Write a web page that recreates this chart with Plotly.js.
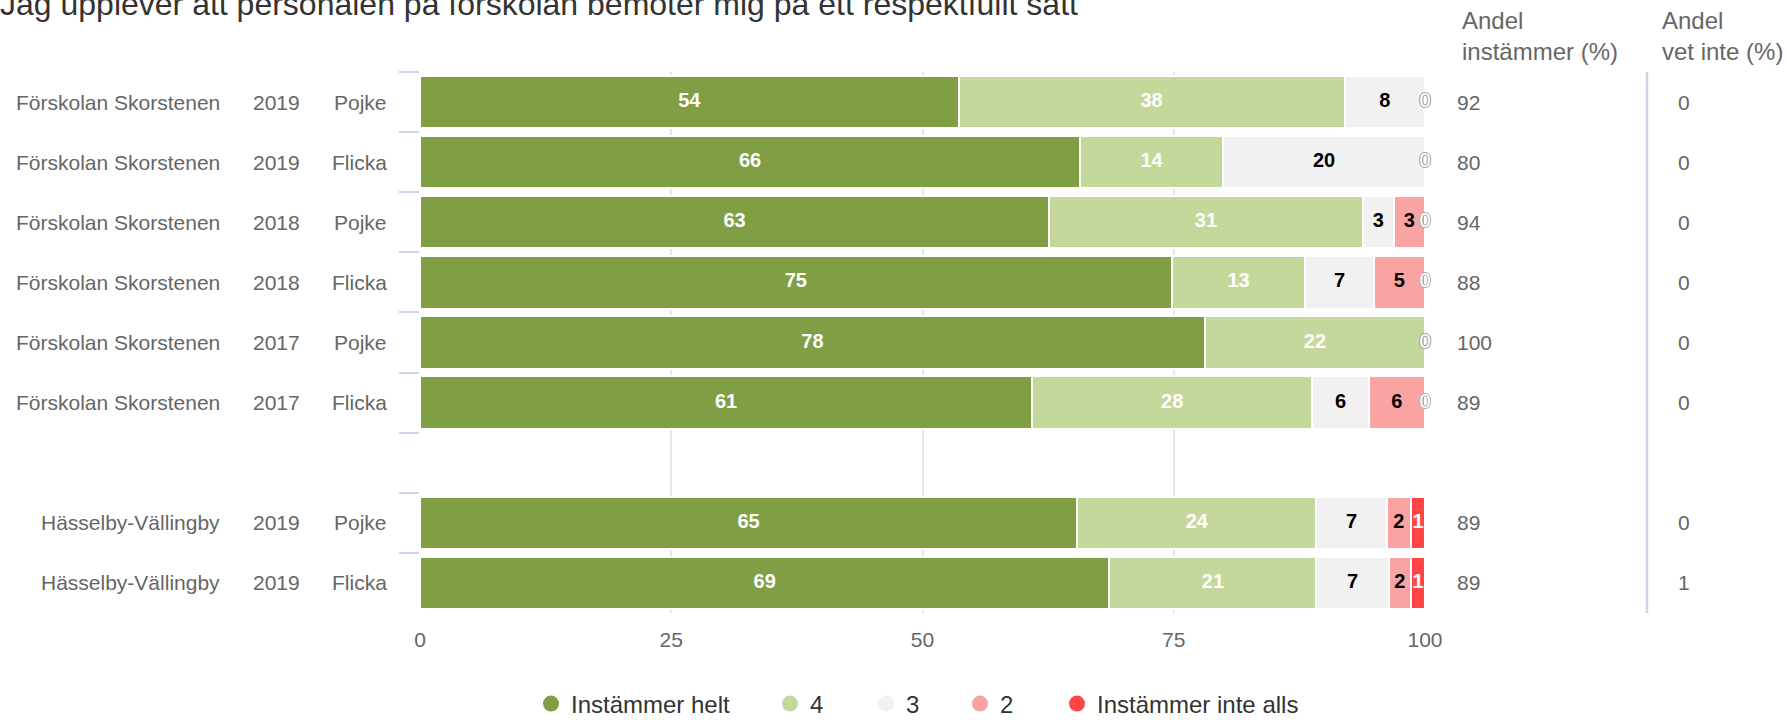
<!DOCTYPE html>
<html><head><meta charset="utf-8">
<script src="https://cdn.plot.ly/plotly-3.0.1.min.js"></script>
<style>html,body{margin:0;padding:0;background:#fff}</style>
</head><body>
<div id="chart" style="width:1787px;height:720px"></div>
<script>
// ---------- data ----------
const chartTitle = "Jag upplever att personalen på förskolan bemöter mig på ett respektfullt sätt";
const sites = ["Förskolan Skorstenen","Förskolan Skorstenen","Förskolan Skorstenen","Förskolan Skorstenen","Förskolan Skorstenen","Förskolan Skorstenen","Hässelby-Vällingby","Hässelby-Vällingby"];
const years = ["2019","2019","2018","2018","2017","2017","2019","2019"];
const genders = ["Pojke","Flicka","Pojke","Flicka","Pojke","Flicka","Pojke","Flicka"];
const seriesNames = ["Instämmer helt","4","3","2","Instämmer inte alls"];
const helt     = [53.6, 65.7, 62.6, 74.8, 78.1, 60.9, 65.4, 68.6];
const fyra     = [38.4, 14.2, 31.2, 13.3, 21.9, 27.9, 23.8, 20.6];
const tre      = [ 8.0, 20.1,  3.1,  6.8,  0.0,  5.6,  7.0,  7.2];
const tva      = [ 0.0,  0.0,  3.1,  5.1,  0.0,  5.6,  2.4,  2.2];
const inteAlls = [ 0.0,  0.0,  0.0,  0.0,  0.0,  0.0,  1.4,  1.4];
const andelInstammer = [92, 80, 94, 88, 100, 89, 89, 89];
const andelVetInte   = [0, 0, 0, 0, 0, 0, 0, 1];
const xTicks = [0, 25, 50, 75, 100];
const headerInstammer = "Andel<br>instämmer (%)";
const headerVetInte = "Andel<br>vet inte (%)";

// ---------- styles ----------
const FONT = "Liberation Sans, Arial, sans-serif";
const seriesColors = ["#809e44", "#c5d89c", "#f1f1f1", "#f9a3a3", "#ff4545"];
const labelColors = ["#ffffff", "#ffffff", "#000000", "#000000", "#ffffff"];
const series = [helt, fyra, tre, tva, inteAlls];

// category keys (with a blank slot between site groups)
const keys = sites.map((s, i) => s + " " + years[i] + " " + genders[i]);
const categoryOrder = [];
keys.forEach((k, i) => {
  if (i > 0 && sites[i] !== sites[i - 1]) categoryOrder.push(" ");
  categoryOrder.push(k);
});

const traces = [];
// bars
series.forEach((vals, s) => {
  traces.push({
    type: "bar", orientation: "h", x: vals, y: keys, name: seriesNames[s],
    marker: {color: seriesColors[s], line: {color: "#ffffff", width: 2}},
    showlegend: false, hoverinfo: "skip"
  });
});
// labels (positions derived from the data)
const cum = keys.map(() => 0);
const zeroX = [], zeroY = [], zeroT = [];
series.forEach((vals, s) => {
  const xs = [], ys = [], ts = [];
  vals.forEach((v, i) => {
    if (v > 0) { xs.push(cum[i] + v / 2); ys.push(keys[i]); ts.push(String(Math.round(v))); }
    else { zeroX.push(cum[i]); zeroY.push(keys[i]); zeroT.push("0"); }
    cum[i] += v;
  });
  traces.push({
    type: "scatter", mode: "text", x: xs, y: ys, text: ts, cliponaxis: false,
    textfont: {family: FONT, size: 20, color: labelColors[s], weight: "bold"},
    showlegend: false, hoverinfo: "skip"
  });
});
traces.push({
  type: "scatter", mode: "text", x: zeroX, y: zeroY, text: zeroT, cliponaxis: false,
  textfont: {family: FONT, size: 20, color: "#ffffff",
    shadow: "1px 0 0 #aaa, -1px 0 0 #aaa, 0 1px 0 #aaa, 0 -1px 0 #aaa"},
  showlegend: false, hoverinfo: "skip"
});
// legend entries (circle symbols)
const legendIds = ["legend", "legend2", "legend3", "legend4", "legend5"];
seriesNames.forEach((n, s) => {
  traces.push({
    type: "scatter", mode: "markers", x: [null], y: [null], name: n,
    marker: {color: seriesColors[s], size: 16, symbol: "circle"},
    legend: legendIds[s], showlegend: true, hoverinfo: "skip"
  });
});

// ---------- annotations ----------
const ML = 420, MR = 362, W = 1787, H = 720;
const PW = W - ML - MR;
const px2paper = p => (p - ML) / PW;
const annotations = [];
keys.forEach((k, i) => {
  const base = {xref: "paper", yref: "y", y: k, showarrow: false, font: {family: FONT, size: 21, color: "#666666"}};
  annotations.push(Object.assign({}, base, {x: 0, xshift: 222 - ML, xanchor: "right", text: sites[i]}));
  annotations.push(Object.assign({}, base, {x: 0, xshift: 302 - ML, xanchor: "right", text: years[i]}));
  annotations.push(Object.assign({}, base, {x: 0, xshift: 389 - ML, xanchor: "right", text: genders[i]}));
  annotations.push(Object.assign({}, base, {x: px2paper(1455), xanchor: "left", text: String(andelInstammer[i])}));
  annotations.push(Object.assign({}, base, {x: px2paper(1676), xanchor: "left", text: String(andelVetInte[i])}));
});
[[headerInstammer, 1460], [headerVetInte, 1660]].forEach(([t, p]) => {
  annotations.push({xref: "paper", yref: "paper", x: px2paper(p), y: 1, yshift: 36, xanchor: "left", yanchor: "middle",
    align: "left", showarrow: false, text: t, font: {family: FONT, size: 24, color: "#666666"}});
});

// legends (placed in container coordinates so they do not push the margins)
const legendTextStart = [571, 810, 906, 1000, 1097];
const legendLayout = {};
legendIds.forEach((id, s) => {
  legendLayout[id] = {xref: "container", yref: "container", x: (legendTextStart[s] - 40) / W, y: 1 - 704 / H,
    xanchor: "left", yanchor: "middle",
    orientation: "h", bgcolor: "rgba(0,0,0,0)", font: {family: FONT, size: 24, color: "#333333"}};
});

const layout = Object.assign({
  width: W, height: H,
  margin: {l: ML, r: MR, t: 72, b: 107, pad: 0, autoexpand: false},
  paper_bgcolor: "#ffffff", plot_bgcolor: "#ffffff",
  font: {family: FONT, color: "#666666"},
  title: {text: chartTitle, x: 0, xref: "container", xanchor: "left", y: 0.995, yref: "container", yanchor: "middle",
    font: {family: FONT, size: 32, color: "#333333"}},
  barmode: "stack", bargap: 0.13,
  xaxis: {range: [0, 100], tickvals: xTicks, ticktext: xTicks.map(String), showgrid: true, gridcolor: "#e6e6e6", gridwidth: 2,
    zeroline: false, showline: false, ticks: "", ticklabelstandoff: 12, tickfont: {family: FONT, size: 21, color: "#666666"}, fixedrange: true},
  yaxis: {type: "category", categoryorder: "array", categoryarray: categoryOrder, range: [categoryOrder.length - 0.5, -0.5],
    showticklabels: false, ticks: "outside", tickson: "boundaries", ticklen: 20, tickwidth: 2, tickcolor: "#ccd6eb",
    showgrid: false, zeroline: false, showline: false, fixedrange: true},
  annotations: annotations,
  shapes: [{type: "line", xref: "paper", yref: "paper", x0: px2paper(1647), x1: px2paper(1647), y0: 0, y1: 1,
    line: {color: "#ccd6eb", width: 2.5}}],
  showlegend: true
}, legendLayout);

Plotly.newPlot("chart", traces, layout, {staticPlot: true, displayModeBar: false});
</script>
</body></html>
